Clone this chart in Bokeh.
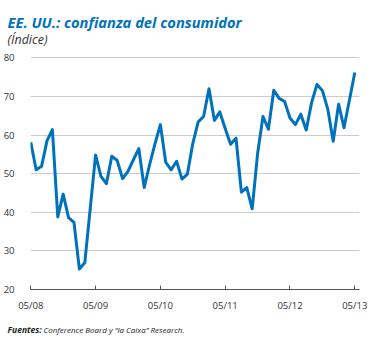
from bokeh.plotting import figure
from bokeh.models import Range1d, FixedTicker, Label
from bokeh.embed import file_html
from bokeh.resources import INLINE

# Monthly index, 05/2008 .. 05/2013
values = [
    58.1, 51.0, 51.9, 58.5, 61.4, 38.8, 44.7, 38.6,
    37.4, 25.3, 26.9, 40.8, 54.8, 49.3, 47.4, 54.5, 53.4, 48.7, 50.6, 53.6,
    56.5, 46.4, 52.3, 57.7, 62.7, 52.9, 51.0, 53.2, 48.6, 49.9, 57.8, 63.4,
    64.8, 72.0, 63.8, 66.0, 61.7, 57.6, 59.2, 45.2, 46.4, 40.9, 55.2, 64.8,
    61.5, 71.6, 69.5, 68.7, 64.4, 62.7, 65.4, 61.3, 68.4, 73.1, 71.5, 66.7,
    58.4, 68.0, 61.9, 69.0, 76.2,
]
months = list(range(len(values)))
tick_positions = [0, 12, 24, 36, 48, 60]
tick_labels = ["05/08", "05/09", "05/10", "05/11", "05/12", "05/13"]
y_ticks = [20, 30, 40, 50, 60, 70, 80]

title_text = "EE. UU.: confianza del consumidor"
subtitle_text = "(Índice)"
source_bold = "Fuentes:"
source_rest = "Conference Board y \u201cla Caixa\u201d Research."

BLUE = "#0072BC"
TXT = "#333333"

p = figure(width=391, height=338, output_backend="svg", toolbar_location=None,
           x_range=Range1d(-0.05, 60.87), y_range=Range1d(20, 80.34),
           min_border_left=28, min_border_right=32, min_border_top=56,
           min_border_bottom=49)
p.outline_line_color = None
p.background_fill_color = "white"
p.border_fill_color = "white"

p.line(months, values, line_color=BLUE, line_width=3, line_join="round")

# y axis
p.yaxis.ticker = FixedTicker(ticks=y_ticks)
p.yaxis.axis_line_color = None
p.yaxis.major_tick_line_color = None
p.yaxis.minor_tick_line_color = None
p.yaxis.major_label_standoff = 10
p.yaxis.major_label_text_font = "Open Sans"
p.yaxis.major_label_text_font_size = "9.5px"
p.yaxis.major_label_text_color = TXT

# x axis
p.xaxis.ticker = FixedTicker(ticks=tick_positions)
p.xaxis.major_label_overrides = {t: l for t, l in zip(tick_positions, tick_labels)}
p.xaxis.axis_line_color = "#555555"
p.xaxis.major_tick_line_color = "#555555"
p.xaxis.major_tick_in = 4
p.xaxis.major_tick_out = 0
p.xaxis.minor_tick_line_color = None
p.xaxis.major_label_standoff = 9
p.xaxis.major_label_text_font = "Open Sans"
p.xaxis.major_label_text_font_size = "9.5px"
p.xaxis.major_label_text_color = TXT

p.xgrid.grid_line_color = None
p.ygrid.grid_line_color = "#cccccc"
p.ygrid.grid_line_width = 1
p.ygrid.ticker = FixedTicker(ticks=y_ticks)

# texts placed in the side panels, in canvas pixels
def add_text(text, x, y, size, style, color, place):
    p.add_layout(Label(x=x, y=y, x_units="canvas", y_units="canvas", text=text,
                       text_font="Open Sans", text_font_style=style,
                       text_font_size=size, text_color=color,
                       text_baseline="alphabetic", text_align="left"), place)

add_text(title_text, 7, 21, "14.7px", "bold italic", BLUE, "above")
add_text(subtitle_text, 7, 38.5, "12.5px", "italic", TXT, "above")
add_text(source_bold, 7, 329, "8.5px", "bold italic", "#222222", "below")
add_text(source_rest, 43, 329, "8px", "italic", "#222222", "below")

open("out.html", "w").write(file_html(p, INLINE))
